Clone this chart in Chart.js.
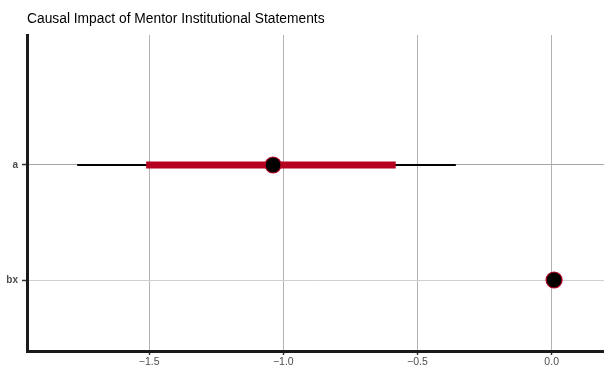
<!DOCTYPE html>
<html>
<head>
<meta charset="utf-8">
<script src="https://cdn.jsdelivr.net/npm/chart.js@4/dist/chart.umd.min.js"></script>
<style>
  html, body { margin: 0; padding: 0; background: #ffffff; }
  #wrap { width: 604px; height: 370px; }
</style>
</head>
<body>
<div id="wrap"><canvas id="chart" width="604" height="370"></canvas></div>
<script>
// Coefficient estimates with their 90% and 95% intervals
const terms    = ['a', 'bx'];
const termPos  = [1, 0];
const estimate = [-1.038, 0.009];
const lower95  = [-1.768, null];
const upper95  = [-0.357, null];
const lower90  = [-1.511, null];
const upper90  = [-0.581, null];
const xTicks   = [-1.5, -1.0, -0.5, 0.0];
const titleText = 'Causal Impact of Mentor Institutional Statements';

const RED = '#b5001f';
const FONT = '"Liberation Sans", Arial, sans-serif';

function segments(lo, hi) {
  const out = [];
  terms.forEach((t, i) => {
    if (lo[i] === null || hi[i] === null) return;
    out.push({ x: lo[i], y: termPos[i] });
    out.push({ x: hi[i], y: termPos[i] });
    out.push({ x: null, y: null });
  });
  return out;
}

const titlePlugin = {
  id: 'plotTitle',
  afterDraw(chart) {
    const ctx = chart.ctx;
    ctx.save();
    ctx.font = '13.8px ' + FONT;
    ctx.fillStyle = '#000000';
    ctx.textAlign = 'left';
    ctx.textBaseline = 'alphabetic';
    ctx.fillText(titleText, chart.chartArea.left, 23);
    ctx.restore();
  }
};

new Chart(document.getElementById('chart'), {
  type: 'scatter',
  data: {
    datasets: [
      {
        label: 'estimate',
        data: terms.map((t, i) => ({ x: estimate[i], y: termPos[i] })),
        pointRadius: 8,
        pointHoverRadius: 8,
        pointBackgroundColor: '#000000',
        pointBorderColor: RED,
        pointBorderWidth: 1.2,
        showLine: false,
        order: 0
      },
      {
        label: '90%',
        data: segments(lower90, upper90),
        showLine: true,
        spanGaps: false,
        borderColor: RED,
        borderWidth: 7,
        borderCapStyle: 'butt',
        pointRadius: 0,
        order: 1
      },
      {
        label: '95%',
        data: segments(lower95, upper95),
        showLine: true,
        spanGaps: false,
        borderColor: '#000000',
        borderWidth: 2,
        borderCapStyle: 'butt',
        pointRadius: 0,
        order: 2
      }
    ]
  },
  options: {
    responsive: false,
    animation: false,
    devicePixelRatio: 1,
    layout: { autoPadding: false, padding: { top: 35, right: 0, bottom: 0, left: 0 } },
    plugins: {
      legend: { display: false },
      title: { display: false },
      tooltip: { enabled: false }
    },
    scales: {
      x: {
        type: 'linear',
        min: -1.955,
        max: 0.195,
        afterBuildTicks(scale) { scale.ticks = xTicks.map(v => ({ value: v })); },
        afterFit(scale) {
          scale.height = 19;
          scale.paddingLeft = 0;
          scale.paddingRight = 0;
        },
        border: { display: true, color: '#1a1a1a', width: 3 },
        grid: {
          color: '#b3b3b3',
          lineWidth: 1,
          drawTicks: true,
          tickLength: 4,
          tickColor: '#333333',
          tickWidth: 1.5
        },
        ticks: {
          padding: 1,
          color: '#4d4d4d',
          font: { family: FONT, size: 10.5 },
          maxRotation: 0,
          callback: v => (v < 0 ? '\u2212' : '') + Math.abs(v).toFixed(1)
        }
      },
      y: {
        type: 'linear',
        min: -0.617,
        max: 2.130,
        afterBuildTicks(scale) { scale.ticks = termPos.map(v => ({ value: v })); },
        afterFit(scale) {
          scale.width = 27;
          scale.paddingTop = 0;
          scale.paddingBottom = 0;
        },
        border: { display: true, color: '#1a1a1a', width: 3 },
        grid: {
          color: ctx => (ctx.tick && ctx.tick.value === 1) ? '#a6a6a6' : '#d0d0d0',
          lineWidth: 1,
          drawTicks: true,
          tickLength: 5,
          tickColor: '#333333',
          tickWidth: 1.5
        },
        ticks: {
          padding: 4,
          color: '#4d4d4d',
          font: { family: FONT, size: 10, weight: 'bold' },
          callback: v => terms[termPos.indexOf(v)]
        }
      }
    }
  },
  plugins: [titlePlugin]
});
</script>
</body>
</html>
